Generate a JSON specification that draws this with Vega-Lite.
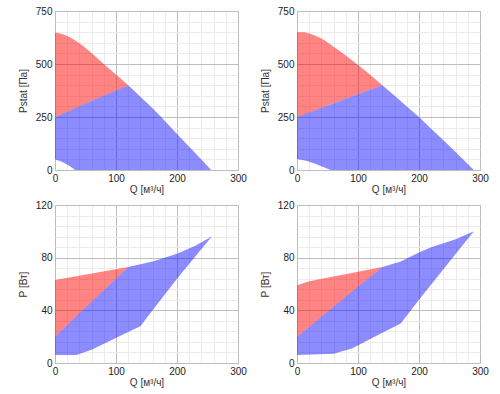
{
  "$schema": "https://vega.github.io/schema/vega-lite/v6.json",
  "padding": {"left": 17, "top": 5, "right": 5, "bottom": 5},
  "background": "white",
  "datasets": {
    "tl": [
      {"r": "red", "q": 0, "top": 648, "bot": 250},
      {"r": "red", "q": 20, "top": 632, "bot": 275},
      {"r": "red", "q": 40, "top": 598, "bot": 300},
      {"r": "red", "q": 60, "top": 552, "bot": 325},
      {"r": "red", "q": 80, "top": 500, "bot": 350},
      {"r": "red", "q": 100, "top": 450, "bot": 375},
      {"r": "red", "q": 120, "top": 400, "bot": 400},
      {"r": "blue", "q": 0, "top": 250, "bot": 50},
      {"r": "blue", "q": 8, "top": 260, "bot": 43},
      {"r": "blue", "q": 16, "top": 270, "bot": 32},
      {"r": "blue", "q": 25, "top": 281, "bot": 16},
      {"r": "blue", "q": 33, "top": 291, "bot": 0},
      {"r": "blue", "q": 60, "top": 325, "bot": 0},
      {"r": "blue", "q": 80, "top": 350, "bot": 0},
      {"r": "blue", "q": 100, "top": 375, "bot": 0},
      {"r": "blue", "q": 120, "top": 400, "bot": 0},
      {"r": "blue", "q": 140, "top": 346, "bot": 0},
      {"r": "blue", "q": 160, "top": 291, "bot": 0},
      {"r": "blue", "q": 174, "top": 250, "bot": 0},
      {"r": "blue", "q": 200, "top": 170, "bot": 0},
      {"r": "blue", "q": 220, "top": 110, "bot": 0},
      {"r": "blue", "q": 240, "top": 50, "bot": 0},
      {"r": "blue", "q": 256, "top": 0, "bot": 0}
    ],
    "tr": [
      {"r": "red", "q": 0, "top": 650, "bot": 250},
      {"r": "red", "q": 10, "top": 650, "bot": 260.7},
      {"r": "red", "q": 20, "top": 644, "bot": 271.4},
      {"r": "red", "q": 40, "top": 620, "bot": 292.9},
      {"r": "red", "q": 60, "top": 581, "bot": 314.3},
      {"r": "red", "q": 80, "top": 540, "bot": 335.7},
      {"r": "red", "q": 100, "top": 495, "bot": 357.1},
      {"r": "red", "q": 120, "top": 449, "bot": 378.6},
      {"r": "red", "q": 140, "top": 400, "bot": 400},
      {"r": "blue", "q": 0, "top": 250, "bot": 52},
      {"r": "blue", "q": 15, "top": 266.1, "bot": 44},
      {"r": "blue", "q": 30, "top": 282.1, "bot": 30},
      {"r": "blue", "q": 45, "top": 298.2, "bot": 12},
      {"r": "blue", "q": 55, "top": 308.9, "bot": 0},
      {"r": "blue", "q": 80, "top": 335.7, "bot": 0},
      {"r": "blue", "q": 100, "top": 357.1, "bot": 0},
      {"r": "blue", "q": 120, "top": 378.6, "bot": 0},
      {"r": "blue", "q": 140, "top": 400, "bot": 0},
      {"r": "blue", "q": 160, "top": 350, "bot": 0},
      {"r": "blue", "q": 180, "top": 300, "bot": 0},
      {"r": "blue", "q": 200, "top": 250, "bot": 0},
      {"r": "blue", "q": 220, "top": 195, "bot": 0},
      {"r": "blue", "q": 240, "top": 140, "bot": 0},
      {"r": "blue", "q": 260, "top": 85, "bot": 0},
      {"r": "blue", "q": 280, "top": 28, "bot": 0},
      {"r": "blue", "q": 290, "top": 0, "bot": 0}
    ],
    "bl": [
      {"r": "red", "q": 0, "top": 63, "bot": 20},
      {"r": "red", "q": 120, "top": 73, "bot": 73},
      {"r": "blue", "q": 0, "top": 20, "bot": 6},
      {"r": "blue", "q": 35, "top": 35.5, "bot": 6},
      {"r": "blue", "q": 60, "top": 46.5, "bot": 10},
      {"r": "blue", "q": 120, "top": 73, "bot": 23.5},
      {"r": "blue", "q": 140, "top": 75, "bot": 28},
      {"r": "blue", "q": 160, "top": 77, "bot": 40},
      {"r": "blue", "q": 200, "top": 83, "bot": 64},
      {"r": "blue", "q": 230, "top": 89, "bot": 80.8},
      {"r": "blue", "q": 257, "top": 96, "bot": 96}
    ],
    "br": [
      {"r": "red", "q": 0, "top": 59, "bot": 20},
      {"r": "red", "q": 20, "top": 62, "bot": 27.6},
      {"r": "red", "q": 140, "top": 73, "bot": 73},
      {"r": "blue", "q": 0, "top": 20, "bot": 6},
      {"r": "blue", "q": 60, "top": 42.7, "bot": 7},
      {"r": "blue", "q": 90, "top": 54.1, "bot": 11},
      {"r": "blue", "q": 140, "top": 73, "bot": 22.9},
      {"r": "blue", "q": 170, "top": 77, "bot": 30},
      {"r": "blue", "q": 200, "top": 84, "bot": 48},
      {"r": "blue", "q": 220, "top": 88, "bot": 59.6},
      {"r": "blue", "q": 260, "top": 94, "bot": 82.7},
      {"r": "blue", "q": 290, "top": 100, "bot": 100}
    ]
  },
  "columns": 2,
  "spacing": {"row": 35, "column": 59},
  "bounds": "flush",
  "concat": [
    {
      "width": 183, "height": 159,
      "data": {"name": "tl"},
      "encoding": {
        "x": {"field": "q", "type": "quantitative", "scale": {"domain": [0, 300], "nice": false},
          "axis": {"title": "Q [м³/ч]", "values": [0,20,40,60,80,100,120,140,160,180,200,220,240,260,280,300],
            "labelExpr": "datum.value % 100 === 0 ? datum.label : ''",
            "gridColor": {"condition": {"test": "datum.value % 100 === 0", "value": "#bdbdbd"}, "value": "#ebebeb"}}},
        "y": {"field": "top", "type": "quantitative", "scale": {"domain": [0, 750], "nice": false},
          "axis": {"title": "Pstat [Па]", "values": [0,50,100,150,200,250,300,350,400,450,500,550,600,650,700,750],
            "labelExpr": "datum.value % 250 === 0 ? datum.label : ''",
            "gridColor": {"condition": {"test": "datum.value % 250 === 0", "value": "#bdbdbd"}, "value": "#ebebeb"}}},
        "y2": {"field": "bot"},
        "color": {"field": "r", "type": "nominal", "scale": {"domain": ["red", "blue"], "range": ["rgba(255,0,0,0.48)", "rgba(0,0,255,0.45)"]}, "legend": null}
      },
      "layer": [
        {"transform": [{"filter": "datum.r === 'red'"}], "mark": {"type": "area", "strokeWidth": 0, "interpolate": "monotone"}},
        {"transform": [{"filter": "datum.r === 'blue'"}], "mark": {"type": "area", "strokeWidth": 0}}
      ]
    },
    {
      "width": 183, "height": 159,
      "data": {"name": "tr"},
      "encoding": {
        "x": {"field": "q", "type": "quantitative", "scale": {"domain": [0, 300], "nice": false},
          "axis": {"title": "Q [м³/ч]", "values": [0,20,40,60,80,100,120,140,160,180,200,220,240,260,280,300],
            "labelExpr": "datum.value % 100 === 0 ? datum.label : ''",
            "gridColor": {"condition": {"test": "datum.value % 100 === 0", "value": "#bdbdbd"}, "value": "#ebebeb"}}},
        "y": {"field": "top", "type": "quantitative", "scale": {"domain": [0, 750], "nice": false},
          "axis": {"title": "Pstat [Па]", "values": [0,50,100,150,200,250,300,350,400,450,500,550,600,650,700,750],
            "labelExpr": "datum.value % 250 === 0 ? datum.label : ''",
            "gridColor": {"condition": {"test": "datum.value % 250 === 0", "value": "#bdbdbd"}, "value": "#ebebeb"}}},
        "y2": {"field": "bot"},
        "color": {"field": "r", "type": "nominal", "scale": {"domain": ["red", "blue"], "range": ["rgba(255,0,0,0.48)", "rgba(0,0,255,0.45)"]}, "legend": null}
      },
      "layer": [
        {"transform": [{"filter": "datum.r === 'red'"}], "mark": {"type": "area", "strokeWidth": 0, "interpolate": "monotone"}},
        {"transform": [{"filter": "datum.r === 'blue'"}], "mark": {"type": "area", "strokeWidth": 0}}
      ]
    },
    {
      "width": 183, "height": 158,
      "data": {"name": "bl"},
      "mark": {"type": "area", "strokeWidth": 0},
      "encoding": {
        "x": {"field": "q", "type": "quantitative", "scale": {"domain": [0, 300], "nice": false},
          "axis": {"title": "Q [м³/ч]", "values": [0,20,40,60,80,100,120,140,160,180,200,220,240,260,280,300],
            "labelExpr": "datum.value % 100 === 0 ? datum.label : ''",
            "gridColor": {"condition": {"test": "datum.value % 100 === 0", "value": "#bdbdbd"}, "value": "#ebebeb"}}},
        "y": {"field": "top", "type": "quantitative", "scale": {"domain": [0, 120], "nice": false},
          "axis": {"title": "P [Вт]", "values": [0,8,16,24,32,40,48,56,64,72,80,88,96,104,112,120],
            "labelExpr": "datum.value % 40 === 0 ? datum.label : ''",
            "gridColor": {"condition": {"test": "datum.value % 40 === 0", "value": "#bdbdbd"}, "value": "#ebebeb"}}},
        "y2": {"field": "bot"},
        "color": {"field": "r", "type": "nominal", "scale": {"domain": ["red", "blue"], "range": ["rgba(255,0,0,0.48)", "rgba(0,0,255,0.45)"]}, "legend": null}
      }
    },
    {
      "width": 183, "height": 158,
      "data": {"name": "br"},
      "mark": {"type": "area", "strokeWidth": 0},
      "encoding": {
        "x": {"field": "q", "type": "quantitative", "scale": {"domain": [0, 300], "nice": false},
          "axis": {"title": "Q [м³/ч]", "values": [0,20,40,60,80,100,120,140,160,180,200,220,240,260,280,300],
            "labelExpr": "datum.value % 100 === 0 ? datum.label : ''",
            "gridColor": {"condition": {"test": "datum.value % 100 === 0", "value": "#bdbdbd"}, "value": "#ebebeb"}}},
        "y": {"field": "top", "type": "quantitative", "scale": {"domain": [0, 120], "nice": false},
          "axis": {"title": "P [Вт]", "values": [0,8,16,24,32,40,48,56,64,72,80,88,96,104,112,120],
            "labelExpr": "datum.value % 40 === 0 ? datum.label : ''",
            "gridColor": {"condition": {"test": "datum.value % 40 === 0", "value": "#bdbdbd"}, "value": "#ebebeb"}}},
        "y2": {"field": "bot"},
        "color": {"field": "r", "type": "nominal", "scale": {"domain": ["red", "blue"], "range": ["rgba(255,0,0,0.48)", "rgba(0,0,255,0.45)"]}, "legend": null}
      }
    }
  ],
  "config": {
    "view": {"stroke": "#c8c8c8"},
    "axis": {
      "labelFont": "Liberation Sans", "labelFontSize": 10, "labelColor": "#222",
      "titleFont": "Liberation Sans", "titleFontSize": 10, "titleFontWeight": "normal", "titleColor": "#333",
      "ticks": false, "domain": false, "labelPadding": 3, "labelFlush": false, "labelOverlap": false
    },
    "axisX": {"titlePadding": 1},
    "axisY": {"titlePadding": 7}
  }
}
